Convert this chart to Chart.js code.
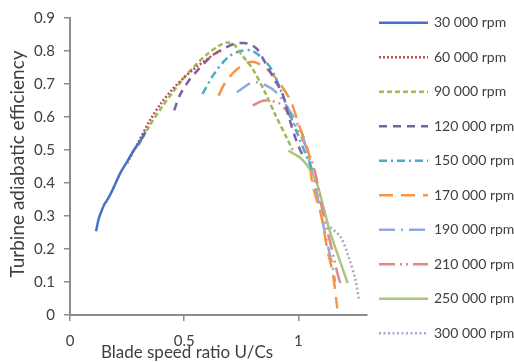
<!DOCTYPE html>
<html>
<head>
<meta charset="utf-8">
<script src="https://cdn.jsdelivr.net/npm/chart.js"></script>
<style>
  html, body { margin: 0; padding: 0; background: #fff; }
  canvas { display: block; }
</style>
</head>
<body>
<canvas id="myChart" width="514" height="362"></canvas>
<script>
// series labels
const seriesLabels = ['30 000 rpm', '60 000 rpm', '90 000 rpm', '120 000 rpm', '150 000 rpm',
  '170 000 rpm', '190 000 rpm', '210 000 rpm', '250 000 rpm', '300 000 rpm'];

// [U/Cs, efficiency] pairs
const rpm30 = [[0.114, 0.254], [0.125, 0.29], [0.135, 0.31], [0.15, 0.335], [0.16, 0.345], [0.18, 0.37],
  [0.2, 0.4], [0.22, 0.43], [0.25, 0.465], [0.28, 0.5], [0.31, 0.53], [0.33, 0.555]];
const rpm60 = [[0.25, 0.46], [0.3, 0.525], [0.35, 0.59], [0.4, 0.643], [0.45, 0.685], [0.5, 0.72],
  [0.55, 0.75], [0.6, 0.775], [0.63, 0.79], [0.66, 0.80]];
const rpm90 = [[0.3, 0.515], [0.35, 0.575], [0.4, 0.628], [0.45, 0.675], [0.5, 0.72], [0.55, 0.758],
  [0.6, 0.79], [0.65, 0.815], [0.69, 0.826], [0.72, 0.818], [0.75, 0.79], [0.8, 0.745], [0.85, 0.68],
  [0.9, 0.605], [0.95, 0.535], [0.975, 0.50]];
const rpm120 = [[0.456, 0.62], [0.48, 0.665], [0.52, 0.71], [0.556, 0.74], [0.6, 0.772], [0.63, 0.79],
  [0.68, 0.81], [0.72, 0.822], [0.76, 0.824], [0.79, 0.82], [0.82, 0.805], [0.85, 0.77], [0.89, 0.72],
  [0.93, 0.67], [0.96, 0.595], [0.99, 0.53], [1.02, 0.48]];
const rpm150 = [[0.58, 0.67], [0.63, 0.73], [0.69, 0.78], [0.746, 0.80], [0.8, 0.80], [0.86, 0.765],
  [0.89, 0.735], [0.94, 0.65], [0.995, 0.55], [1.03, 0.49], [1.06, 0.44]];
const rpm170 = [[0.65, 0.665], [0.68, 0.705], [0.716, 0.735], [0.75, 0.755], [0.79, 0.767], [0.83, 0.76],
  [0.87, 0.74], [0.91, 0.71], [0.965, 0.65], [1.0, 0.58], [1.045, 0.49], [1.06, 0.40], [1.1, 0.30],
  [1.126, 0.20], [1.15, 0.127], [1.17, 0.02]];
const rpm190 = [[0.73, 0.675], [0.8, 0.705], [0.86, 0.695], [0.91, 0.67], [0.96, 0.62], [1.01, 0.56],
  [1.05, 0.46], [1.08, 0.37], [1.12, 0.235], [1.15, 0.145], [1.16, 0.10]];
const rpm210 = [[0.80, 0.635], [0.85, 0.65], [0.92, 0.64], [0.965, 0.60], [1.02, 0.53], [1.07, 0.44],
  [1.105, 0.317], [1.14, 0.217], [1.175, 0.115], [1.19, 0.085]];
const rpm250 = [[0.956, 0.498], [1.01, 0.475], [1.045, 0.447], [1.075, 0.408], [1.09, 0.378],
  [1.14, 0.248], [1.185, 0.157], [1.215, 0.097]];
const rpm300 = [[1.14, 0.266], [1.185, 0.236], [1.22, 0.175], [1.25, 0.105], [1.265, 0.045]];

// axis ticks
const xTicks = [0, 0.5, 1];
const yTicks = [0, 0.1, 0.2, 0.3, 0.4, 0.5, 0.6, 0.7, 0.8, 0.9];

const seriesData = [rpm30, rpm60, rpm90, rpm120, rpm150, rpm170, rpm190, rpm210, rpm250, rpm300];
const seriesColors = ['#4472c4', '#c0504d', '#9bbb59', '#7d5fa5', '#4bacc6',
  '#f79646', '#8eaadb', '#e0888a', '#a9c77f', '#b3a2c7'];
const seriesDash = [[], [2, 2], [5, 3], [8, 6], [8, 4, 2, 4], [14, 8], [16, 6, 2, 6],
  [16, 5, 2, 4, 2, 5], [], [2, 2.5]];

const fontFamily = 'Lato, "Open Sans", sans-serif';
const textColor = '#404040';
const axisColor = '#8c8c8c';

// legend drawn at the right, plus both axis titles
const sideLegend = {
    id: 'sideLegend',
    afterDraw(chart) {
        const ctx = chart.ctx;
        ctx.save();
        chart.data.datasets.forEach((ds, i) => {
            const y = 22.7 + i * 34.5;
            ctx.strokeStyle = ds.borderColor;
            ctx.lineWidth = ds.borderWidth;
            ctx.setLineDash(ds.borderDash);
            ctx.beginPath();
            ctx.moveTo(379, y);
            ctx.lineTo(428, y);
            ctx.stroke();
            ctx.setLineDash([]);
            ctx.fillStyle = textColor;
            ctx.font = '14px ' + fontFamily;
            ctx.textBaseline = 'middle';
            ctx.textAlign = 'left';
            ctx.fillText(ds.label, 434, y);
        });

        ctx.fillStyle = textColor;
        ctx.font = '17px ' + fontFamily;
        ctx.textAlign = 'center';
        ctx.textBaseline = 'middle';
        ctx.fillText('Blade speed ratio U/Cs', 187, 353);

        ctx.font = '19px ' + fontFamily;
        ctx.translate(18, 164);
        ctx.rotate(-Math.PI / 2);
        ctx.fillText('Turbine adiabatic efficiency', 0, 0);
        ctx.restore();
    }
};

const ctx = document.getElementById('myChart').getContext('2d');
new Chart(ctx, {
    type: 'line',
    data: {
        datasets: seriesData.map((pts, i) => ({
            label: seriesLabels[i],
            data: pts.map(p => ({ x: p[0], y: p[1] })),
            borderColor: seriesColors[i],
            borderDash: seriesDash[i],
            borderWidth: 2.5,
            fill: false,
            pointRadius: 0,
            tension: 0.3
        }))
    },
    options: {
        responsive: false,
        animation: false,
        layout: { padding: { top: 17, right: 147, bottom: 0, left: 0 } },
        plugins: {
            legend: { display: false },
            tooltip: { enabled: false }
        },
        scales: {
            x: {
                type: 'linear',
                min: 0,
                max: 1.3,
                afterBuildTicks: scale => { scale.ticks = xTicks.map(v => ({ value: v })); },
                afterFit: scale => { scale.height = 47; },
                grid: { drawOnChartArea: false, drawTicks: true, tickLength: 6, color: axisColor, lineWidth: 1.5 },
                border: { display: true, color: axisColor, width: 2 },
                ticks: {
                    padding: 11,
                    color: textColor,
                    font: { family: fontFamily, size: 15 },
                    callback: v => String(v)
                }
            },
            y: {
                type: 'linear',
                min: 0,
                max: 0.9,
                afterBuildTicks: scale => { scale.ticks = yTicks.map(v => ({ value: v })); },
                afterFit: scale => { scale.width = 70; },
                grid: { drawOnChartArea: false, drawTicks: true, tickLength: 6, color: axisColor, lineWidth: 1.5 },
                border: { display: true, color: axisColor, width: 2 },
                ticks: {
                    padding: 9,
                    color: textColor,
                    font: { family: fontFamily, size: 15 },
                    callback: v => (v === 0 ? '0' : v.toFixed(1))
                }
            }
        }
    },
    plugins: [sideLegend]
});
</script>
</body>
</html>
